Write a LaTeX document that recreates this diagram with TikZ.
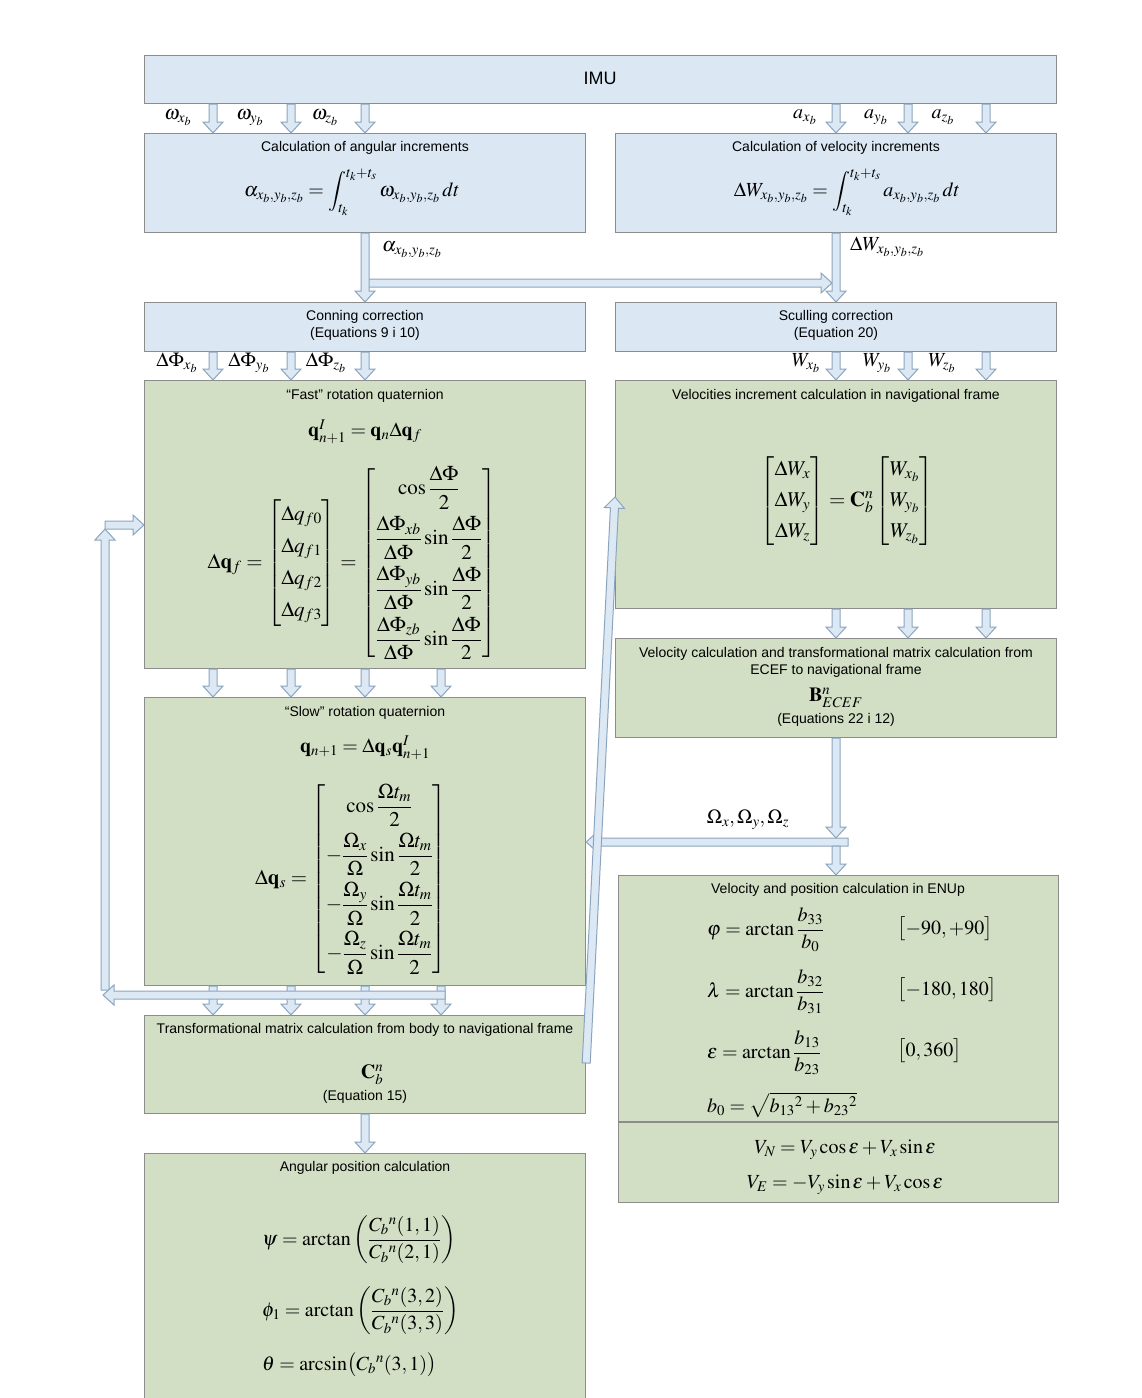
\documentclass[tikz,border=0pt]{standalone}
\usepackage{amsmath}
\usepackage{mathptmx}
\usepackage[no-math]{fontspec}
\setmainfont{Liberation Sans}
\usetikzlibrary{calc}
\definecolor{bluefill}{RGB}{219,232,244}
\definecolor{greenfill}{RGB}{211,223,196}
\definecolor{boxline}{RGB}{140,140,140}
\definecolor{arrfill}{RGB}{220,233,245}
\definecolor{arrline}{RGB}{140,165,190}
\newcommand\rowgap[1]{\\\noalign{\vskip #1}}
\tikzset{
 bluebox/.style={draw=boxline, fill=bluefill, line width=1.2pt, anchor=north west, inner sep=0pt},
 greenbox/.style={draw=boxline, fill=greenfill, line width=1.2pt, anchor=north west, inner sep=0pt},
 ttl/.style={font=\fontsize{14}{17}\selectfont, inner sep=0pt, align=center},
 mth/.style={font=\fontsize{20}{24}\selectfont, inner sep=0pt},
 mtx/.style={font=\fontsize{21}{25}\selectfont, inner sep=0pt},
 blockarrow/.style={draw=arrline, fill=arrfill, line width=1pt, line join=miter},
}
\newcommand\barr[2]{%
  \path[blockarrow] let \p1=(#1), \p2=(#2), \p3=($(\p2)!11pt!(\p1)$) in
   ($(\p1)!4pt!90:(\p2)$) -- ($(\p3)!4pt!90:(\p2)$) -- ($(\p3)!10pt!90:(\p2)$) -- (\p2)
   -- ($(\p3)!10pt!-90:(\p2)$) -- ($(\p3)!4pt!-90:(\p2)$) -- ($(\p1)!4pt!-90:(\p2)$) -- cycle;}
\begin{document}
\begin{tikzpicture}[x=1pt,y=-1pt]
\useasboundingbox[fill=white] (0,0) rectangle (1142,1398);
% column coordinates
\coordinate (xa) at (213,0);
\coordinate (xb) at (291,0);
\coordinate (xc) at (365,0);
\coordinate (xd) at (441,0);
\coordinate (xe) at (836,0);
\coordinate (xf) at (908,0);
\coordinate (xg) at (986,0);
\coordinate (hz) at (0,283);
\coordinate (om) at (0,842);
\coordinate (om1) at (0,838);
\coordinate (om2) at (0,846);
\coordinate (lpy) at (0,995);
\coordinate (lpa) at (105,990);
\coordinate (lpb) at (105,529);
\coordinate (lpc) at (105,525);
\coordinate (lpl) at (103,995);
\coordinate (sl1) at (0,1063);
\coordinate (sl2) at (0,497);
\coordinate (dv) at (0,1122);
% boxes
\node[bluebox, minimum width=912pt, minimum height=48pt] (imu) at (144,55) {};
\node[bluebox, minimum width=441pt, minimum height=99pt] (ang) at (144,133) {};
\node[bluebox, minimum width=441pt, minimum height=99pt] (vel) at (615,133) {};
\node[bluebox, minimum width=441pt, minimum height=49pt] (con) at (144,302) {};
\node[bluebox, minimum width=441pt, minimum height=49pt] (scu) at (615,302) {};
\node[greenbox, minimum width=441pt, minimum height=288pt] (fast) at (144,380) {};
\node[greenbox, minimum width=441pt, minimum height=228pt] (velinc) at (615,380) {};
\node[greenbox, minimum width=441pt, minimum height=288pt] (slow) at (144,697) {};
\node[greenbox, minimum width=441pt, minimum height=99pt] (velcalc) at (615,638) {};
\node[greenbox, minimum width=441pt, minimum height=98pt] (transf) at (144,1015) {};
\node[greenbox, minimum width=441pt, minimum height=260pt] (angpos) at (144,1153) {};
\node[greenbox, minimum width=440pt, minimum height=327pt] (enu) at (618,875) {};
\draw[boxline, line width=1.2pt] (enu.west |- dv) -- (enu.east |- dv);
% texts
\node[font=\fontsize{18}{21}\selectfont, inner sep=0pt] (imut) at (600,78) {IMU};
\node[ttl] (t1) at (365,148) {Calculation of angular increments};
\node[mth] (f1) at (352,192) {$\displaystyle \alpha_{x_b,y_b,z_b} = \int_{t_k}^{t_k+t_s}\omega_{x_b,y_b,z_b}\,dt$};
\node[ttl] (t2) at (836,148) {Calculation of velocity increments};
\node[mth] (f2) at (847,192) {$\displaystyle \Delta W_{x_b,y_b,z_b} = \int_{t_k}^{t_k+t_s} a_{x_b,y_b,z_b}\,dt$};
\node[mth] (lw1) at (178,118) {$\omega_{x_b}$};
\node[mth] (lw2) at (250,118) {$\omega_{y_b}$};
\node[mth] (lw3) at (325,118) {$\omega_{z_b}$};
\node[mth] (la1) at (805,117) {$a_{x_b}$};
\node[mth] (la2) at (876,117) {$a_{y_b}$};
\node[mth] (la3) at (943,117) {$a_{z_b}$};
\node[mth, anchor=west] (lal) at (382,250) {$\alpha_{x_b,y_b,z_b}$};
\node[mth, anchor=west] (ldw) at (850,247) {$\Delta W_{x_b,y_b,z_b}$};
\node[ttl] (t3) at (365,325) {Conning correction\\(Equations 9 i 10)};
\node[ttl] (t4) at (836,325) {Sculling correction\\(Equation 20)};
\node[mth] (lp1) at (177,363) {$\Delta\Phi_{x_b}$};
\node[mth] (lp2) at (249,363) {$\Delta\Phi_{y_b}$};
\node[mth] (lp3) at (326,363) {$\Delta\Phi_{z_b}$};
\node[mth] (lW1) at (806,363) {$W_{x_b}$};
\node[mth] (lW2) at (877,363) {$W_{y_b}$};
\node[mth] (lW3) at (942,363) {$W_{z_b}$};
\node[ttl] (t5) at (365,396) {“Fast” rotation quaternion};
\node[mth] (f3) at (365,432) {$\mathbf{q}^{I}_{n+1} = \mathbf{q}_n\Delta\mathbf{q}_f$};
\node[mtx] (f4) at (352,563) {$\Delta\mathbf{q}_f = \begin{bmatrix}\Delta q_{f0}\\[7pt] \Delta q_{f1}\\[7pt] \Delta q_{f2}\\[7pt] \Delta q_{f3}\end{bmatrix} = \begin{bmatrix} \cos\dfrac{\Delta\Phi}{2}\rowgap{7pt} \dfrac{\Delta\Phi_{xb}}{\Delta\Phi}\sin\dfrac{\Delta\Phi}{2}\rowgap{7pt} \dfrac{\Delta\Phi_{yb}}{\Delta\Phi}\sin\dfrac{\Delta\Phi}{2}\rowgap{7pt} \dfrac{\Delta\Phi_{zb}}{\Delta\Phi}\sin\dfrac{\Delta\Phi}{2}\end{bmatrix}$};
\node[ttl] (t6) at (365,713) {“Slow” rotation quaternion};
\node[mth] (f5) at (365,748) {$\mathbf{q}_{n+1} = \Delta\mathbf{q}_s\mathbf{q}^{I}_{n+1}$};
\node[mtx] (f6) at (351,879) {$\Delta\mathbf{q}_s = \begin{bmatrix}\cos\dfrac{\Omega t_m}{2}\rowgap{6pt} -\dfrac{\Omega_x}{\Omega}\sin\dfrac{\Omega t_m}{2}\rowgap{6pt} -\dfrac{\Omega_y}{\Omega}\sin\dfrac{\Omega t_m}{2}\rowgap{6pt} -\dfrac{\Omega_z}{\Omega}\sin\dfrac{\Omega t_m}{2}\end{bmatrix}$};
\node[ttl] (t7) at (365,1030) {Transformational matrix calculation from body to navigational frame};
\node[mth] (f7) at (372,1075) {$\mathbf{C}_b^n$};
\node[ttl] (t8) at (365,1097) {(Equation 15)};
\node[ttl] (t9) at (365,1168) {Angular position calculation};
\node[mth, anchor=west] (f8) at (262,1240) {$\psi = \arctan\left(\dfrac{C_b{}^{n}(1,1)}{C_b{}^{n}(2,1)}\right)$};
\node[mth, anchor=west] (f9) at (262,1311) {$\phi_1 = \arctan\left(\dfrac{C_b{}^{n}(3,2)}{C_b{}^{n}(3,3)}\right)$};
\node[mth, anchor=west] (f10) at (262,1365) {$\theta = \arcsin\bigl(C_b{}^{n}(3,1)\bigr)$};
\node[ttl] (t10) at (836,396) {Velocities increment calculation in navigational frame};
\node[mtx] (f11) at (847,501) {$\begin{bmatrix}\Delta W_x\\[6pt] \Delta W_y\\[6pt] \Delta W_z\end{bmatrix} = \mathbf{C}_b^n \begin{bmatrix} W_{x_b}\\[6pt] W_{y_b}\\[6pt] W_{z_b}\end{bmatrix}$};
\node[ttl] (t11) at (836,662) {Velocity calculation and transformational matrix calculation from\\ECEF to navigational frame};
\node[mth] (f12) at (836,698) {$\mathbf{B}^n_{ECEF}$};
\node[ttl] (t12) at (836,720) {(Equations 22 i 12)};
\node[ttl] (t13) at (838,890) {Velocity and position calculation in ENUp};
\node[mth, anchor=west] (f13) at (707,930) {$\varphi = \arctan\dfrac{b_{33}}{b_0}$};
\node[mth, anchor=west] (r1) at (897,929) {$\bigl[-90,+90\bigr]$};
\node[mth, anchor=west] (f14) at (707,992) {$\lambda = \arctan\dfrac{b_{32}}{b_{31}}$};
\node[mth, anchor=west] (r2) at (897,990) {$\bigl[-180,180\bigr]$};
\node[mth, anchor=west] (f15) at (707,1053) {$\varepsilon = \arctan\dfrac{b_{13}}{b_{23}}$};
\node[mth, anchor=west] (r3) at (897,1051) {$\bigl[0,360\bigr]$};
\node[mth, anchor=west] (f16) at (707,1105) {$b_0 = \sqrt{b_{13}{}^{2} + b_{23}{}^{2}}$};
\node[mth] (f17) at (845,1150) {$V_N = V_y\cos\varepsilon + V_x\sin\varepsilon$};
\node[mth] (f18) at (845,1185) {$V_E = -V_y\sin\varepsilon + V_x\cos\varepsilon$};
\node[mth] (lom) at (748,820) {$\Omega_x,\Omega_y,\Omega_z$};
% arrows IMU
\barr{imu.south -| xa}{ang.north -| xa}
\barr{imu.south -| xb}{ang.north -| xb}
\barr{imu.south -| xc}{ang.north -| xc}
\barr{imu.south -| xe}{vel.north -| xe}
\barr{imu.south -| xf}{vel.north -| xf}
\barr{imu.south -| xg}{vel.north -| xg}
% increments to corrections
\barr{xc |- hz}{$(xe |- hz)+(-4,0)$}
\barr{ang.south -| xc}{con.north -| xc}
\barr{vel.south -| xe}{scu.north -| xe}
% corrections
\barr{con.south -| xa}{fast.north -| xa}
\barr{con.south -| xb}{fast.north -| xb}
\barr{con.south -| xc}{fast.north -| xc}
\barr{scu.south -| xe}{velinc.north -| xe}
\barr{scu.south -| xf}{velinc.north -| xf}
\barr{scu.south -| xg}{velinc.north -| xg}
% fast to slow
\barr{fast.south -| xa}{slow.north -| xa}
\barr{fast.south -| xb}{slow.north -| xb}
\barr{fast.south -| xc}{slow.north -| xc}
\barr{fast.south -| xd}{slow.north -| xd}
% slow to transf
\barr{slow.south -| xa}{transf.north -| xa}
\barr{slow.south -| xb}{transf.north -| xb}
\barr{slow.south -| xc}{transf.north -| xc}
\barr{slow.south -| xd}{transf.north -| xd}
% feedback loop
\barr{lpa}{lpb}
\barr{$(xd |- lpy)+(4,0)$}{lpl}
\barr{lpc}{fast.west |- lpc}
% transf to angpos
\barr{transf.south -| xc}{angpos.north -| xc}
% right column
\barr{velinc.south -| xe}{velcalc.north -| xe}
\barr{velinc.south -| xf}{velcalc.north -| xf}
\barr{velinc.south -| xg}{velcalc.north -| xg}
\barr{$(xe |- om)+(12,0)$}{slow.east |- om}
\barr{velcalc.south -| xe}{xe |- om1}
\barr{xe |- om2}{enu.north -| xe}
% slanted
\barr{transf.east |- sl1}{velinc.west |- sl2}
\end{tikzpicture}
\end{document}
